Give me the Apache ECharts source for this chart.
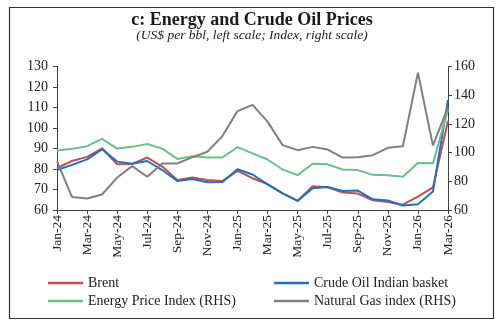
<!DOCTYPE html>
<html>
<head>
<meta charset="utf-8">
<script src="https://cdn.jsdelivr.net/npm/echarts@6/dist/echarts.min.js"></script>
<style>
html,body{margin:0;padding:0;background:#fff;}
#chart{width:498px;height:325px;}
</style>
</head>
<body>
<div id="chart"></div>
<script>
var months = ['Jan-24','Feb-24','Mar-24','Apr-24','May-24','Jun-24','Jul-24','Aug-24','Sep-24','Oct-24','Nov-24','Dec-24',
              'Jan-25','Feb-25','Mar-25','Apr-25','May-25','Jun-25','Jul-25','Aug-25','Sep-25','Oct-25','Nov-25','Dec-25',
              'Jan-26','Feb-26','Mar-26'];
var brent = [80.4,83.9,85.9,90.1,82.3,82.5,85.6,81.2,74.6,75.8,74.6,74.1,79.1,75.5,72.6,68.1,64.5,71.6,71.1,68.5,68.0,64.7,63.9,62.6,66.5,71.0,103.5];
var indianBasket = [79.5,82.0,84.7,89.6,83.6,82.6,83.9,79.5,74.2,75.1,73.5,73.7,79.9,77.3,72.5,68.1,64.4,70.6,71.2,69.3,69.5,65.2,64.6,62.2,62.8,69.0,113.7];
var energyIndex = [101.5,102.6,104.5,109.6,102.8,104.0,106.0,102.8,95.6,97.5,96.6,96.6,103.8,99.5,95.2,88.2,84.3,92.2,91.8,88.2,87.8,84.5,84.2,83.1,92.8,92.5,130.0];
var gasIndex = [94.0,69.0,68.0,70.8,82.6,90.6,83.2,92.4,92.4,96.8,100.6,111.5,128.9,133.3,121.6,105.2,101.7,104.0,102.1,96.5,96.8,98.2,103.3,104.4,155.6,105.0,131.5];
var leftTicks = {min:60, max:130, interval:10};
var rightTicks = {min:60, max:160, interval:20};

var FONT = 'Liberation Serif';
var AX = '#404040';
var chart = echarts.init(document.getElementById('chart'), null, {renderer:'canvas'});
function lineSeries(name, data, color, yIdx){
  return {name:name, type:'line', data:data, yAxisIndex:yIdx, symbol:'none',
          lineStyle:{color:color, width:2}, itemStyle:{color:color}, z:2};
}
var legendBase = {orient:'vertical', icon:'rect', itemWidth:35, itemHeight:2.5, itemGap:4, padding:0,
  textStyle:{fontFamily:FONT, fontSize:14, color:'#222', lineHeight:14}, selectedMode:false};
chart.setOption({
  animation:false,
  textStyle:{fontFamily:FONT},
  graphic:[
    {type:'rect', shape:{x:9.5, y:7.5, width:484, height:311}, style:{fill:'none', stroke:'#333', lineWidth:1.2}, silent:true},
    {type:'text', x:252, y:20.5, style:{text:'c: Energy and Crude Oil Prices', fontFamily:FONT, fontWeight:'bold', fontSize:18, fill:'#1a1a1a', textAlign:'center', textVerticalAlign:'middle'}},
    {type:'text', x:252, y:35.5, style:{text:'(US$ per bbl, left scale; Index, right scale)', fontFamily:FONT, fontStyle:'italic', fontSize:13.5, fill:'#222', textAlign:'center', textVerticalAlign:'middle'}}
  ],
  legend:[
    Object.assign({}, legendBase, {left:48, top:276, data:['Brent','Energy Price Index (RHS)']}),
    Object.assign({}, legendBase, {left:274, top:276, data:['Crude Oil Indian basket','Natural Gas index (RHS)']})
  ],
  grid:{left:57, right:50, top:66.5, bottom:115, containLabel:false},
  xAxis:{type:'category', data:months, boundaryGap:false,
    axisLine:{lineStyle:{color:AX, width:1}},
    axisTick:{show:true, interval:1, length:4, lineStyle:{color:AX}},
    axisLabel:{interval:1, rotate:90, margin:5, fontFamily:FONT, fontSize:13.5, color:'#222'},
    splitLine:{show:false}},
  yAxis:[
    {type:'value', position:'left', min:leftTicks.min, max:leftTicks.max, interval:leftTicks.interval,
     axisLine:{show:true, lineStyle:{color:AX}}, axisTick:{show:true, length:4, lineStyle:{color:AX}},
     axisLabel:{margin:9, fontFamily:FONT, fontSize:14, color:'#222'}, splitLine:{show:false}},
    {type:'value', position:'right', min:rightTicks.min, max:rightTicks.max, interval:rightTicks.interval,
     axisLine:{show:true, lineStyle:{color:AX}}, axisTick:{show:true, length:4, lineStyle:{color:AX}},
     axisLabel:{margin:6, fontFamily:FONT, fontSize:14, color:'#222'}, splitLine:{show:false}}
  ],
  series:[
    lineSeries('Brent', brent, '#C0504D', 0),
    lineSeries('Crude Oil Indian basket', indianBasket, '#2470B8', 0),
    lineSeries('Energy Price Index (RHS)', energyIndex, '#6DBE8E', 1),
    lineSeries('Natural Gas index (RHS)', gasIndex, '#808080', 1)
  ]
});
</script>
</body>
</html>
